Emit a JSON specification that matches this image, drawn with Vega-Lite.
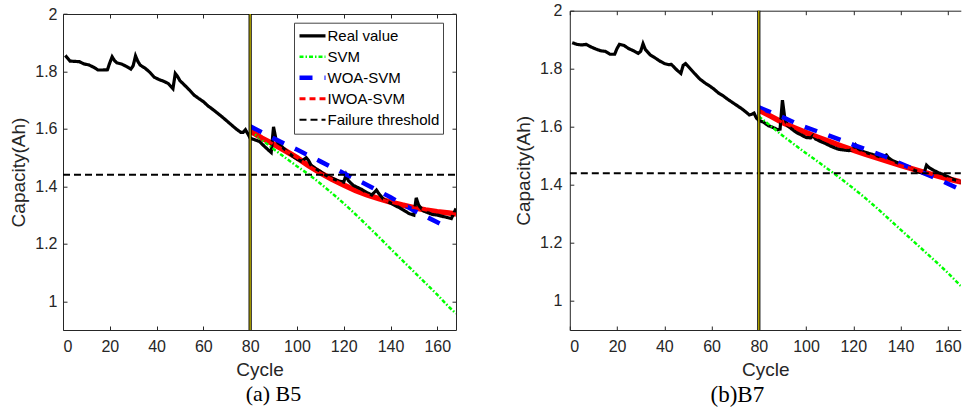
{
  "$schema": "https://vega.github.io/schema/vega-lite/v6.json",
  "background": "white",
  "padding": {"left": 9, "top": 2.7, "right": 0, "bottom": 0},
  "spacing": 56.8,
  "config": {
    "view": {"stroke": null},
    "axis": {
      "labelFont": "Liberation Sans", "labelFontSize": 16, "labelColor": "#262626",
      "titleFont": "Liberation Sans", "titleFontSize": 19, "titleFontWeight": "normal", "titleColor": "#262626",
      "domainColor": "#262626", "tickColor": "#262626", "tickSize": -4, "grid": false
    },
    "legend": {
      "title": null, "direction": "vertical", "fillColor": "white", "strokeColor": "#444444",
      "padding": 3, "rowPadding": 0, "clipHeight": 20.3, "labelFont": "Liberation Sans", "labelFontSize": 15, "labelColor": "black",
      "symbolType": "stroke", "symbolSize": 676, "labelOffset": -0.5
    }
  },
  "datasets": {
    "vline": [{"cycle": 80}],
    "b5": [
      {"series": "Real value", "cycle": 1, "cap": 1.856},
      {"series": "Real value", "cycle": 2, "cap": 1.846},
      {"series": "Real value", "cycle": 3, "cap": 1.836},
      {"series": "Real value", "cycle": 5, "cap": 1.835},
      {"series": "Real value", "cycle": 7, "cap": 1.834},
      {"series": "Real value", "cycle": 9, "cap": 1.826},
      {"series": "Real value", "cycle": 11, "cap": 1.823},
      {"series": "Real value", "cycle": 13, "cap": 1.815},
      {"series": "Real value", "cycle": 15, "cap": 1.805},
      {"series": "Real value", "cycle": 17, "cap": 1.805},
      {"series": "Real value", "cycle": 19, "cap": 1.806},
      {"series": "Real value", "cycle": 20, "cap": 1.830},
      {"series": "Real value", "cycle": 21, "cap": 1.851},
      {"series": "Real value", "cycle": 22, "cap": 1.838},
      {"series": "Real value", "cycle": 23, "cap": 1.830},
      {"series": "Real value", "cycle": 25, "cap": 1.826},
      {"series": "Real value", "cycle": 27, "cap": 1.818},
      {"series": "Real value", "cycle": 29, "cap": 1.808},
      {"series": "Real value", "cycle": 30, "cap": 1.820},
      {"series": "Real value", "cycle": 31, "cap": 1.854},
      {"series": "Real value", "cycle": 32, "cap": 1.835},
      {"series": "Real value", "cycle": 33, "cap": 1.822},
      {"series": "Real value", "cycle": 35, "cap": 1.812},
      {"series": "Real value", "cycle": 37, "cap": 1.798},
      {"series": "Real value", "cycle": 39, "cap": 1.780},
      {"series": "Real value", "cycle": 41, "cap": 1.772},
      {"series": "Real value", "cycle": 43, "cap": 1.766},
      {"series": "Real value", "cycle": 45, "cap": 1.758},
      {"series": "Real value", "cycle": 47, "cap": 1.740},
      {"series": "Real value", "cycle": 48, "cap": 1.793},
      {"series": "Real value", "cycle": 49, "cap": 1.782},
      {"series": "Real value", "cycle": 50, "cap": 1.768},
      {"series": "Real value", "cycle": 52, "cap": 1.752},
      {"series": "Real value", "cycle": 54, "cap": 1.736},
      {"series": "Real value", "cycle": 56, "cap": 1.718},
      {"series": "Real value", "cycle": 58, "cap": 1.706},
      {"series": "Real value", "cycle": 60, "cap": 1.695},
      {"series": "Real value", "cycle": 62, "cap": 1.680},
      {"series": "Real value", "cycle": 64, "cap": 1.668},
      {"series": "Real value", "cycle": 66, "cap": 1.655},
      {"series": "Real value", "cycle": 68, "cap": 1.642},
      {"series": "Real value", "cycle": 70, "cap": 1.628},
      {"series": "Real value", "cycle": 72, "cap": 1.614},
      {"series": "Real value", "cycle": 74, "cap": 1.600},
      {"series": "Real value", "cycle": 76, "cap": 1.588},
      {"series": "Real value", "cycle": 77, "cap": 1.588},
      {"series": "Real value", "cycle": 78, "cap": 1.597},
      {"series": "Real value", "cycle": 79, "cap": 1.583},
      {"series": "Real value", "cycle": 80, "cap": 1.568},
      {"series": "Real value", "cycle": 82, "cap": 1.562},
      {"series": "Real value", "cycle": 84, "cap": 1.556},
      {"series": "Real value", "cycle": 86, "cap": 1.540},
      {"series": "Real value", "cycle": 88, "cap": 1.525},
      {"series": "Real value", "cycle": 89, "cap": 1.518},
      {"series": "Real value", "cycle": 90, "cap": 1.607},
      {"series": "Real value", "cycle": 91, "cap": 1.565},
      {"series": "Real value", "cycle": 92, "cap": 1.550},
      {"series": "Real value", "cycle": 94, "cap": 1.535},
      {"series": "Real value", "cycle": 96, "cap": 1.520},
      {"series": "Real value", "cycle": 98, "cap": 1.506},
      {"series": "Real value", "cycle": 100, "cap": 1.495},
      {"series": "Real value", "cycle": 102, "cap": 1.487},
      {"series": "Real value", "cycle": 104, "cap": 1.500},
      {"series": "Real value", "cycle": 105, "cap": 1.490},
      {"series": "Real value", "cycle": 106, "cap": 1.474},
      {"series": "Real value", "cycle": 108, "cap": 1.462},
      {"series": "Real value", "cycle": 110, "cap": 1.452},
      {"series": "Real value", "cycle": 112, "cap": 1.440},
      {"series": "Real value", "cycle": 114, "cap": 1.432},
      {"series": "Real value", "cycle": 116, "cap": 1.425},
      {"series": "Real value", "cycle": 118, "cap": 1.418},
      {"series": "Real value", "cycle": 120, "cap": 1.415},
      {"series": "Real value", "cycle": 121, "cap": 1.440},
      {"series": "Real value", "cycle": 122, "cap": 1.420},
      {"series": "Real value", "cycle": 124, "cap": 1.404},
      {"series": "Real value", "cycle": 126, "cap": 1.396},
      {"series": "Real value", "cycle": 128, "cap": 1.388},
      {"series": "Real value", "cycle": 130, "cap": 1.378},
      {"series": "Real value", "cycle": 132, "cap": 1.370},
      {"series": "Real value", "cycle": 134, "cap": 1.387},
      {"series": "Real value", "cycle": 135, "cap": 1.375},
      {"series": "Real value", "cycle": 137, "cap": 1.355},
      {"series": "Real value", "cycle": 140, "cap": 1.342},
      {"series": "Real value", "cycle": 142, "cap": 1.333},
      {"series": "Real value", "cycle": 144, "cap": 1.325},
      {"series": "Real value", "cycle": 146, "cap": 1.315},
      {"series": "Real value", "cycle": 148, "cap": 1.305},
      {"series": "Real value", "cycle": 150, "cap": 1.300},
      {"series": "Real value", "cycle": 151, "cap": 1.360},
      {"series": "Real value", "cycle": 152, "cap": 1.335},
      {"series": "Real value", "cycle": 154, "cap": 1.315},
      {"series": "Real value", "cycle": 156, "cap": 1.308},
      {"series": "Real value", "cycle": 158, "cap": 1.302},
      {"series": "Real value", "cycle": 160, "cap": 1.300},
      {"series": "Real value", "cycle": 162, "cap": 1.296},
      {"series": "Real value", "cycle": 164, "cap": 1.292},
      {"series": "Real value", "cycle": 166, "cap": 1.288},
      {"series": "Real value", "cycle": 167, "cap": 1.305},
      {"series": "Real value", "cycle": 168, "cap": 1.323},
      {"series": "SVM", "cycle": 80, "cap": 1.594},
      {"series": "SVM", "cycle": 85, "cap": 1.562},
      {"series": "SVM", "cycle": 90, "cap": 1.530},
      {"series": "SVM", "cycle": 95, "cap": 1.500},
      {"series": "SVM", "cycle": 100, "cap": 1.470},
      {"series": "SVM", "cycle": 105, "cap": 1.442},
      {"series": "SVM", "cycle": 110, "cap": 1.410},
      {"series": "SVM", "cycle": 115, "cap": 1.376},
      {"series": "SVM", "cycle": 120, "cap": 1.341},
      {"series": "SVM", "cycle": 125, "cap": 1.303},
      {"series": "SVM", "cycle": 130, "cap": 1.264},
      {"series": "SVM", "cycle": 135, "cap": 1.224},
      {"series": "SVM", "cycle": 140, "cap": 1.183},
      {"series": "SVM", "cycle": 145, "cap": 1.143},
      {"series": "SVM", "cycle": 150, "cap": 1.103},
      {"series": "SVM", "cycle": 155, "cap": 1.063},
      {"series": "SVM", "cycle": 160, "cap": 1.023},
      {"series": "SVM", "cycle": 165, "cap": 0.980},
      {"series": "SVM", "cycle": 168, "cap": 0.957},
      {"series": "WOA-SVM", "cycle": 80, "cap": 1.609},
      {"series": "WOA-SVM", "cycle": 90, "cap": 1.567},
      {"series": "WOA-SVM", "cycle": 100, "cap": 1.528},
      {"series": "WOA-SVM", "cycle": 110, "cap": 1.487},
      {"series": "WOA-SVM", "cycle": 120, "cap": 1.446},
      {"series": "WOA-SVM", "cycle": 130, "cap": 1.405},
      {"series": "WOA-SVM", "cycle": 140, "cap": 1.362},
      {"series": "WOA-SVM", "cycle": 150, "cap": 1.316},
      {"series": "WOA-SVM", "cycle": 160, "cap": 1.275},
      {"series": "WOA-SVM", "cycle": 164, "cap": 1.258},
      {"series": "IWOA-SVM", "cycle": 80, "cap": 1.593},
      {"series": "IWOA-SVM", "cycle": 85, "cap": 1.568},
      {"series": "IWOA-SVM", "cycle": 90, "cap": 1.547},
      {"series": "IWOA-SVM", "cycle": 95, "cap": 1.524},
      {"series": "IWOA-SVM", "cycle": 100, "cap": 1.500},
      {"series": "IWOA-SVM", "cycle": 105, "cap": 1.472},
      {"series": "IWOA-SVM", "cycle": 110, "cap": 1.447},
      {"series": "IWOA-SVM", "cycle": 115, "cap": 1.425},
      {"series": "IWOA-SVM", "cycle": 120, "cap": 1.405},
      {"series": "IWOA-SVM", "cycle": 125, "cap": 1.386},
      {"series": "IWOA-SVM", "cycle": 130, "cap": 1.370},
      {"series": "IWOA-SVM", "cycle": 135, "cap": 1.357},
      {"series": "IWOA-SVM", "cycle": 140, "cap": 1.345},
      {"series": "IWOA-SVM", "cycle": 145, "cap": 1.335},
      {"series": "IWOA-SVM", "cycle": 150, "cap": 1.326},
      {"series": "IWOA-SVM", "cycle": 155, "cap": 1.318},
      {"series": "IWOA-SVM", "cycle": 160, "cap": 1.312},
      {"series": "IWOA-SVM", "cycle": 165, "cap": 1.307},
      {"series": "IWOA-SVM", "cycle": 168, "cap": 1.304},
      {"series": "Failure threshold", "cycle": 0, "cap": 1.44},
      {"series": "Failure threshold", "cycle": 168, "cap": 1.44}
    ],
    "b7": [
      {"series": "Real value", "cycle": 1, "cap": 1.890},
      {"series": "Real value", "cycle": 3, "cap": 1.884},
      {"series": "Real value", "cycle": 5, "cap": 1.882},
      {"series": "Real value", "cycle": 7, "cap": 1.884},
      {"series": "Real value", "cycle": 9, "cap": 1.875},
      {"series": "Real value", "cycle": 11, "cap": 1.868},
      {"series": "Real value", "cycle": 13, "cap": 1.862},
      {"series": "Real value", "cycle": 15, "cap": 1.860},
      {"series": "Real value", "cycle": 17, "cap": 1.850},
      {"series": "Real value", "cycle": 19, "cap": 1.850},
      {"series": "Real value", "cycle": 20, "cap": 1.870},
      {"series": "Real value", "cycle": 21, "cap": 1.884},
      {"series": "Real value", "cycle": 23, "cap": 1.880},
      {"series": "Real value", "cycle": 25, "cap": 1.869},
      {"series": "Real value", "cycle": 27, "cap": 1.862},
      {"series": "Real value", "cycle": 29, "cap": 1.853},
      {"series": "Real value", "cycle": 30, "cap": 1.860},
      {"series": "Real value", "cycle": 31, "cap": 1.886},
      {"series": "Real value", "cycle": 32, "cap": 1.866},
      {"series": "Real value", "cycle": 34, "cap": 1.848},
      {"series": "Real value", "cycle": 36, "cap": 1.838},
      {"series": "Real value", "cycle": 38, "cap": 1.827},
      {"series": "Real value", "cycle": 40, "cap": 1.818},
      {"series": "Real value", "cycle": 42, "cap": 1.814},
      {"series": "Real value", "cycle": 43, "cap": 1.815},
      {"series": "Real value", "cycle": 45, "cap": 1.798},
      {"series": "Real value", "cycle": 47, "cap": 1.784},
      {"series": "Real value", "cycle": 48, "cap": 1.812},
      {"series": "Real value", "cycle": 49, "cap": 1.818},
      {"series": "Real value", "cycle": 51, "cap": 1.800},
      {"series": "Real value", "cycle": 53, "cap": 1.782},
      {"series": "Real value", "cycle": 55, "cap": 1.765},
      {"series": "Real value", "cycle": 57, "cap": 1.752},
      {"series": "Real value", "cycle": 59, "cap": 1.742},
      {"series": "Real value", "cycle": 61, "cap": 1.730},
      {"series": "Real value", "cycle": 63, "cap": 1.716},
      {"series": "Real value", "cycle": 65, "cap": 1.706},
      {"series": "Real value", "cycle": 67, "cap": 1.694},
      {"series": "Real value", "cycle": 69, "cap": 1.683},
      {"series": "Real value", "cycle": 71, "cap": 1.672},
      {"series": "Real value", "cycle": 73, "cap": 1.661},
      {"series": "Real value", "cycle": 75, "cap": 1.648},
      {"series": "Real value", "cycle": 76, "cap": 1.641},
      {"series": "Real value", "cycle": 77, "cap": 1.643},
      {"series": "Real value", "cycle": 78, "cap": 1.647},
      {"series": "Real value", "cycle": 79, "cap": 1.630},
      {"series": "Real value", "cycle": 80, "cap": 1.622},
      {"series": "Real value", "cycle": 82, "cap": 1.616},
      {"series": "Real value", "cycle": 84, "cap": 1.604},
      {"series": "Real value", "cycle": 86, "cap": 1.598},
      {"series": "Real value", "cycle": 88, "cap": 1.590},
      {"series": "Real value", "cycle": 89, "cap": 1.592},
      {"series": "Real value", "cycle": 90, "cap": 1.692},
      {"series": "Real value", "cycle": 91, "cap": 1.630},
      {"series": "Real value", "cycle": 92, "cap": 1.605},
      {"series": "Real value", "cycle": 94, "cap": 1.592},
      {"series": "Real value", "cycle": 96, "cap": 1.580},
      {"series": "Real value", "cycle": 98, "cap": 1.572},
      {"series": "Real value", "cycle": 100, "cap": 1.563},
      {"series": "Real value", "cycle": 102, "cap": 1.562},
      {"series": "Real value", "cycle": 103, "cap": 1.570},
      {"series": "Real value", "cycle": 104, "cap": 1.558},
      {"series": "Real value", "cycle": 106, "cap": 1.550},
      {"series": "Real value", "cycle": 108, "cap": 1.543},
      {"series": "Real value", "cycle": 110, "cap": 1.535},
      {"series": "Real value", "cycle": 112, "cap": 1.528},
      {"series": "Real value", "cycle": 114, "cap": 1.522},
      {"series": "Real value", "cycle": 116, "cap": 1.520},
      {"series": "Real value", "cycle": 118, "cap": 1.518},
      {"series": "Real value", "cycle": 120, "cap": 1.522},
      {"series": "Real value", "cycle": 121, "cap": 1.537},
      {"series": "Real value", "cycle": 122, "cap": 1.525},
      {"series": "Real value", "cycle": 124, "cap": 1.515},
      {"series": "Real value", "cycle": 126, "cap": 1.510},
      {"series": "Real value", "cycle": 128, "cap": 1.505},
      {"series": "Real value", "cycle": 130, "cap": 1.500},
      {"series": "Real value", "cycle": 132, "cap": 1.495},
      {"series": "Real value", "cycle": 134, "cap": 1.503},
      {"series": "Real value", "cycle": 135, "cap": 1.492},
      {"series": "Real value", "cycle": 137, "cap": 1.482},
      {"series": "Real value", "cycle": 140, "cap": 1.472},
      {"series": "Real value", "cycle": 142, "cap": 1.466},
      {"series": "Real value", "cycle": 144, "cap": 1.458},
      {"series": "Real value", "cycle": 146, "cap": 1.450},
      {"series": "Real value", "cycle": 148, "cap": 1.443},
      {"series": "Real value", "cycle": 150, "cap": 1.442},
      {"series": "Real value", "cycle": 151, "cap": 1.468},
      {"series": "Real value", "cycle": 152, "cap": 1.460},
      {"series": "Real value", "cycle": 154, "cap": 1.450},
      {"series": "Real value", "cycle": 156, "cap": 1.442},
      {"series": "Real value", "cycle": 158, "cap": 1.436},
      {"series": "Real value", "cycle": 160, "cap": 1.428},
      {"series": "Real value", "cycle": 162, "cap": 1.420},
      {"series": "Real value", "cycle": 164, "cap": 1.414},
      {"series": "Real value", "cycle": 166, "cap": 1.408},
      {"series": "Real value", "cycle": 168, "cap": 1.402},
      {"series": "SVM", "cycle": 80, "cap": 1.636},
      {"series": "SVM", "cycle": 85, "cap": 1.603},
      {"series": "SVM", "cycle": 90, "cap": 1.570},
      {"series": "SVM", "cycle": 95, "cap": 1.539},
      {"series": "SVM", "cycle": 100, "cap": 1.509},
      {"series": "SVM", "cycle": 105, "cap": 1.480},
      {"series": "SVM", "cycle": 110, "cap": 1.450},
      {"series": "SVM", "cycle": 115, "cap": 1.420},
      {"series": "SVM", "cycle": 120, "cap": 1.388},
      {"series": "SVM", "cycle": 125, "cap": 1.355},
      {"series": "SVM", "cycle": 130, "cap": 1.320},
      {"series": "SVM", "cycle": 135, "cap": 1.283},
      {"series": "SVM", "cycle": 140, "cap": 1.246},
      {"series": "SVM", "cycle": 145, "cap": 1.209},
      {"series": "SVM", "cycle": 150, "cap": 1.172},
      {"series": "SVM", "cycle": 155, "cap": 1.135},
      {"series": "SVM", "cycle": 160, "cap": 1.097},
      {"series": "SVM", "cycle": 165, "cap": 1.056},
      {"series": "SVM", "cycle": 168, "cap": 1.032},
      {"series": "WOA-SVM", "cycle": 80, "cap": 1.667},
      {"series": "WOA-SVM", "cycle": 90, "cap": 1.634},
      {"series": "WOA-SVM", "cycle": 97, "cap": 1.607},
      {"series": "WOA-SVM", "cycle": 109, "cap": 1.572},
      {"series": "WOA-SVM", "cycle": 120, "cap": 1.538},
      {"series": "WOA-SVM", "cycle": 132, "cap": 1.502},
      {"series": "WOA-SVM", "cycle": 143, "cap": 1.463},
      {"series": "WOA-SVM", "cycle": 155, "cap": 1.423},
      {"series": "WOA-SVM", "cycle": 166, "cap": 1.381},
      {"series": "WOA-SVM", "cycle": 168, "cap": 1.373},
      {"series": "IWOA-SVM", "cycle": 80, "cap": 1.658},
      {"series": "IWOA-SVM", "cycle": 85, "cap": 1.637},
      {"series": "IWOA-SVM", "cycle": 90, "cap": 1.615},
      {"series": "IWOA-SVM", "cycle": 95, "cap": 1.597},
      {"series": "IWOA-SVM", "cycle": 100, "cap": 1.580},
      {"series": "IWOA-SVM", "cycle": 105, "cap": 1.564},
      {"series": "IWOA-SVM", "cycle": 110, "cap": 1.549},
      {"series": "IWOA-SVM", "cycle": 115, "cap": 1.534},
      {"series": "IWOA-SVM", "cycle": 120, "cap": 1.520},
      {"series": "IWOA-SVM", "cycle": 125, "cap": 1.506},
      {"series": "IWOA-SVM", "cycle": 130, "cap": 1.493},
      {"series": "IWOA-SVM", "cycle": 135, "cap": 1.480},
      {"series": "IWOA-SVM", "cycle": 140, "cap": 1.467},
      {"series": "IWOA-SVM", "cycle": 145, "cap": 1.455},
      {"series": "IWOA-SVM", "cycle": 150, "cap": 1.443},
      {"series": "IWOA-SVM", "cycle": 155, "cap": 1.432},
      {"series": "IWOA-SVM", "cycle": 160, "cap": 1.421},
      {"series": "IWOA-SVM", "cycle": 165, "cap": 1.411},
      {"series": "IWOA-SVM", "cycle": 168, "cap": 1.405},
      {"series": "Failure threshold", "cycle": 0, "cap": 1.44},
      {"series": "Failure threshold", "cycle": 168, "cap": 1.44}
    ]
  },
  "hconcat": [
    {
      "width": 393,
      "height": 319.3,
      "title": {"text": "(a) B5", "orient": "bottom", "font": "Liberation Serif", "fontSize": 22, "fontWeight": "normal", "color": "black", "dx": 14, "offset": 5},
      "layer": [
        {
          "data": {"name": "b5"},
          "transform": [{"filter": "datum.series === 'IWOA-SVM'"}],
          "mark": {"type": "line", "color": "#ff0000", "strokeWidth": 5.5, "clip": true},
          "encoding": {
            "x": {"field": "cycle", "type": "quantitative", "scale": {"domain": [0, 168], "nice": false, "zero": false},
                  "axis": {"orient": "top", "labels": false, "title": null, "offset": -3.3, "values": [0, 20, 40, 60, 80, 100, 120, 140, 160]}},
            "y": {"field": "cap", "type": "quantitative", "scale": {"domain": [0.9, 2], "range": [319.3, 3.3], "nice": false, "zero": false},
                  "axis": {"orient": "right", "labels": false, "title": null, "values": [1, 1.2, 1.4, 1.6, 1.8, 2]}}
          }
        },
        {
          "data": {"name": "b5"},
          "mark": {"type": "line", "clip": true},
          "encoding": {
            "x": {"field": "cycle", "type": "quantitative", "scale": {"domain": [0, 168], "nice": false, "zero": false},
                  "axis": {"orient": "bottom", "title": "Cycle", "values": [0, 20, 40, 60, 80, 100, 120, 140, 160], "labelPadding": 12, "titlePadding": 6}},
            "y": {"field": "cap", "type": "quantitative", "scale": {"domain": [0.9, 2], "range": [319.3, 3.3], "nice": false, "zero": false},
                  "axis": {"orient": "left", "title": "Capacity(Ah)", "values": [1, 1.2, 1.4, 1.6, 1.8, 2], "format": "~g", "labelPadding": 10, "titlePadding": 6}},
            "color": {"field": "series", "type": "nominal",
                      "scale": {"domain": ["Real value", "SVM", "WOA-SVM", "IWOA-SVM", "Failure threshold"], "range": ["#000000", "#00ff00", "#0000ff", "#ff0000", "#000000"]},
                      "legend": {"orient": "none", "legendX": 231, "legendY": 12}},
            "strokeDash": {"field": "series", "type": "nominal",
                      "scale": {"domain": ["Real value", "SVM", "WOA-SVM", "IWOA-SVM", "Failure threshold"], "range": [[1, 0], [4, 2, 1.5, 2], [13, 12], [6, 4], [7, 4]]},
                      "legend": {"orient": "none", "legendX": 231, "legendY": 12}},
            "strokeWidth": {"field": "series", "type": "nominal",
                      "scale": {"type": "ordinal", "domain": ["Real value", "SVM", "WOA-SVM", "IWOA-SVM", "Failure threshold"], "range": [3.2, 2.5, 4.5, 3, 2]},
                      "legend": {"orient": "none", "legendX": 231, "legendY": 12}}
          }
        },
        {
          "data": {"name": "vline"},
          "mark": {"type": "rule", "color": "#000000", "strokeWidth": 3.2},
          "encoding": {
            "x": {"field": "cycle", "type": "quantitative", "axis": null},
            "y": {"datum": 2, "type": "quantitative", "axis": null},
            "y2": {"datum": 0.9}
          }
        },
        {
          "data": {"name": "vline"},
          "mark": {"type": "rule", "color": "#d8c800", "strokeWidth": 1.2},
          "encoding": {
            "x": {"field": "cycle", "type": "quantitative", "axis": null},
            "y": {"datum": 2, "type": "quantitative", "axis": null},
            "y2": {"datum": 0.9}
          }
        }
      ],
      "resolve": {"axis": {"x": "independent", "y": "independent"}}
    },
    {
      "width": 391,
      "height": 319.3,
      "title": {"text": "(b)B7", "orient": "bottom", "font": "Liberation Serif", "fontSize": 23, "fontWeight": "normal", "color": "black", "dx": -28, "offset": 5},
      "layer": [
        {
          "data": {"name": "b7"},
          "transform": [{"filter": "datum.series === 'IWOA-SVM'"}],
          "mark": {"type": "line", "color": "#ff0000", "strokeWidth": 5.5, "clip": true},
          "encoding": {
            "x": {"field": "cycle", "type": "quantitative", "scale": {"domain": [0, 165.5], "nice": false, "zero": false},
                  "axis": {"orient": "top", "labels": false, "title": null, "values": [0, 20, 40, 60, 80, 100, 120, 140, 160]}},
            "y": {"field": "cap", "type": "quantitative", "scale": {"domain": [0.9, 2], "nice": false, "zero": false}, "axis": null}
          }
        },
        {
          "data": {"name": "b7"},
          "mark": {"type": "line", "clip": true},
          "encoding": {
            "x": {"field": "cycle", "type": "quantitative", "scale": {"domain": [0, 165.5], "nice": false, "zero": false},
                  "axis": {"orient": "bottom", "title": "Cycle", "values": [0, 20, 40, 60, 80, 100, 120, 140, 160], "labelPadding": 12, "titlePadding": 6}},
            "y": {"field": "cap", "type": "quantitative", "scale": {"domain": [0.9, 2], "nice": false, "zero": false},
                  "axis": {"orient": "left", "title": "Capacity(Ah)", "values": [1, 1.2, 1.4, 1.6, 1.8, 2], "format": "~g", "labelPadding": 12, "titlePadding": 6}},
            "color": {"field": "series", "type": "nominal",
                      "scale": {"domain": ["Real value", "SVM", "WOA-SVM", "IWOA-SVM", "Failure threshold"], "range": ["#000000", "#00ff00", "#0000ff", "#ff0000", "#000000"]},
                      "legend": {"orient": "none", "legendX": 238, "legendY": 6.6}},
            "strokeDash": {"field": "series", "type": "nominal",
                      "scale": {"domain": ["Real value", "SVM", "WOA-SVM", "IWOA-SVM", "Failure threshold"], "range": [[1, 0], [4, 2, 1.5, 2], [13, 12], [6, 4], [7, 4]]},
                      "legend": {"orient": "none", "legendX": 238, "legendY": 6.6}},
            "strokeWidth": {"field": "series", "type": "nominal",
                      "scale": {"type": "ordinal", "domain": ["Real value", "SVM", "WOA-SVM", "IWOA-SVM", "Failure threshold"], "range": [3.2, 2.5, 4.5, 3, 2]},
                      "legend": {"orient": "none", "legendX": 238, "legendY": 6.6}}
          }
        },
        {
          "data": {"name": "vline"},
          "mark": {"type": "rule", "color": "#000000", "strokeWidth": 3.2},
          "encoding": {"x": {"field": "cycle", "type": "quantitative", "axis": null}}
        },
        {
          "data": {"name": "vline"},
          "mark": {"type": "rule", "color": "#d8c800", "strokeWidth": 1.2},
          "encoding": {"x": {"field": "cycle", "type": "quantitative", "axis": null}}
        }
      ],
      "resolve": {"axis": {"x": "independent", "y": "independent"}}
    }
  ]
}
